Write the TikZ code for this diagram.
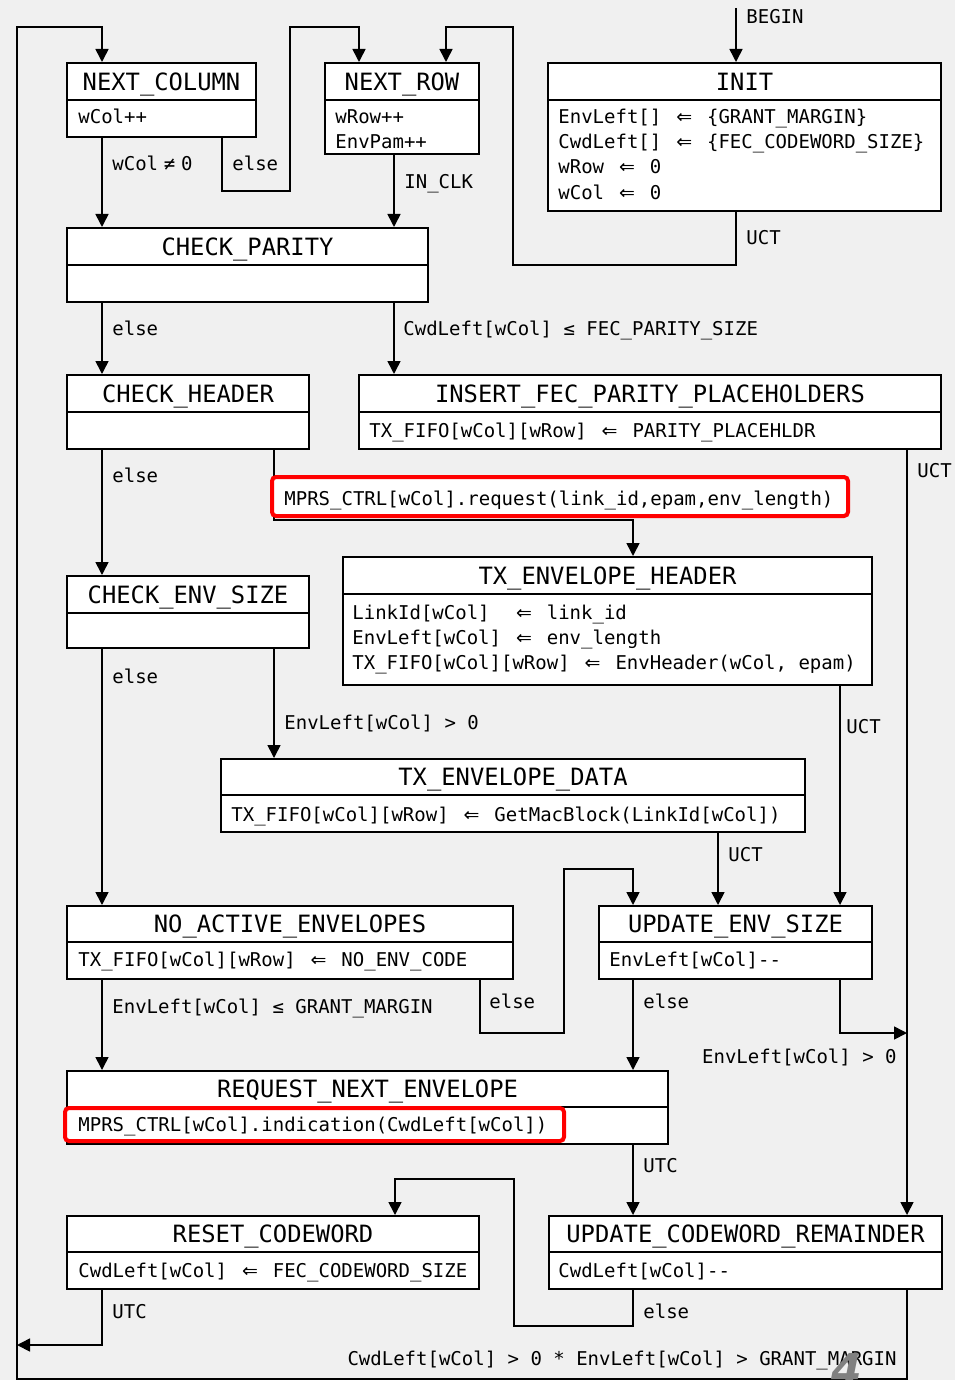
\documentclass[tikz,border=0pt]{standalone}
\usepackage{fontspec}
\setmonofont{DejaVu Sans Mono}
\newfontfamily\pagefont{DejaVu Sans}
\newfontfamily\arrowfont{DejaVu Sans}
\usetikzlibrary{arrows.meta,fit}
\definecolor{canvas}{HTML}{F0F0F0}
\definecolor{hilite}{HTML}{FF0000}
% assignment arrow and inequality sign, each two character cells wide
\newcommand\assignarrow{\makebox[1.204em]{\arrowfont ⇐}}
\newcommand\notequal{\makebox[1.204em]{≠}}
\tikzset{
  titlebox/.style={draw, line width=1pt, fill=white, inner sep=0pt},
  titletext/.style={anchor=base, inner sep=0pt, font=\ttfamily\fontsize{11.9}{14}\selectfont},
  bodybox/.style={draw, line width=1pt, fill=white, inner sep=0pt},
  bodyline/.style={anchor=base west, inner sep=0pt, font=\ttfamily\fontsize{9.5}{12}\selectfont},
  guard/.style={bodyline},
  flow/.style={line width=0.8pt, -{Triangle[length=6.5pt,width=6.5pt]}},
  wire/.style={line width=0.8pt},
  callout/.style={draw=hilite, line width=2pt, rounded corners=2pt, fill=white, inner sep=0pt},
}
% state: name, left, top, divider, right, bottom, title
\newcommand\fsmstate[7]{%
  \node[titlebox, fit={(#2,#3) (#5,#4)}] (#1) {};
  \node[bodybox, fit={(#2,#4) (#5,#6)}] (#1-b) {};
  \node[titletext] (#1-t) at ({(#2+#5)/2},{(#3+#4)/2+8.7}) {#7};
}
\begin{document}
\begin{tikzpicture}[x=0.5pt, y=-0.5pt]
\clip (0,0) rectangle (955,1380);
\fill[canvas] (0,0) rectangle (955,1380);

% ---------- states ----------
\fsmstate{nc}{67}{63}{100}{256}{137}{NEXT\_COLUMN}
\node[bodyline] (nc-1) at (78,124) {wCol++};

\fsmstate{nr}{325}{63}{100}{479}{154}{NEXT\_ROW}
\node[bodyline] (nr-1) at (335,124) {wRow++};
\node[bodyline] (nr-2) at (335,149) {EnvPam++};

\fsmstate{init}{548}{63}{100}{941}{211}{INIT}
\node[bodyline] (init-1) at (558,124) {EnvLeft[] \assignarrow{} \{GRANT\_MARGIN\}};
\node[bodyline] (init-2) at (558,149) {CwdLeft[] \assignarrow{} \{FEC\_CODEWORD\_SIZE\}};
\node[bodyline] (init-3) at (558,174) {wRow \assignarrow{} 0};
\node[bodyline] (init-4) at (558,199) {wCol \assignarrow{} 0};

\fsmstate{cp}{67}{228}{265}{428}{302}{CHECK\_PARITY}

\fsmstate{ch}{67}{375}{412}{309}{449}{CHECK\_HEADER}

\fsmstate{ins}{359}{375}{412}{941}{449}{INSERT\_FEC\_PARITY\_PLACEHOLDERS}
\node[bodyline] (ins-1) at (369,437) {TX\_FIFO[wCol][wRow] \assignarrow{} PARITY\_PLACEHLDR};

\fsmstate{txeh}{343}{557}{594}{872}{685}{TX\_ENVELOPE\_HEADER}
\node[bodyline] (txeh-1) at (352,619) {LinkId[wCol]\ \ \assignarrow{} link\_id};
\node[bodyline] (txeh-2) at (352,644) {EnvLeft[wCol] \assignarrow{} env\_length};
\node[bodyline] (txeh-3) at (352,669) {TX\_FIFO[wCol][wRow] \assignarrow{} EnvHeader(wCol, epam)};

\fsmstate{ces}{67}{576}{613}{309}{648}{CHECK\_ENV\_SIZE}

\fsmstate{txed}{221}{759}{795}{805}{832}{TX\_ENVELOPE\_DATA}
\node[bodyline] (txed-1) at (231,821) {TX\_FIFO[wCol][wRow] \assignarrow{} GetMacBlock(LinkId[wCol])};

\fsmstate{nae}{67}{906}{942}{513}{979}{NO\_ACTIVE\_ENVELOPES}
\node[bodyline] (nae-1) at (78,966) {TX\_FIFO[wCol][wRow] \assignarrow{} NO\_ENV\_CODE};

\fsmstate{ues}{599}{906}{942}{872}{979}{UPDATE\_ENV\_SIZE}
\node[bodyline] (ues-1) at (609,966) {EnvLeft[wCol]-{}-};

\fsmstate{rne}{67}{1071}{1107}{668}{1144}{REQUEST\_NEXT\_ENVELOPE}
\node[callout, fit={(65,1108) (564,1141)}] (ind) {};
\node[bodyline] (ind-t) at (78,1131) {MPRS\_CTRL[wCol].indication(CwdLeft[wCol])};

\fsmstate{rc}{67}{1216}{1252}{479}{1289}{RESET\_CODEWORD}
\node[bodyline] (rc-1) at (78,1277) {CwdLeft[wCol] \assignarrow{} FEC\_CODEWORD\_SIZE};

\fsmstate{ucr}{549}{1216}{1252}{942}{1289}{UPDATE\_CODEWORD\_REMAINDER}
\node[bodyline] (ucr-1) at (558,1277) {CwdLeft[wCol]-{}-};

% ---------- transitions ----------
\coordinate (begin) at (736,8);
\draw[flow] (begin) -- (init.north -| begin);
\node[guard] (g-begin) at (746,24) {BEGIN};

\draw[flow] (init-b.south -| 736,0) |- (513,265) |- (446,27) -- (nr.north -| 446,0);
\node[guard] (g-init) at (746,244) {UCT};

% outer loop back to NEXT_COLUMN, running along the bottom and left edges
\draw[flow] (ucr-b.south -| 907,0) |- (17,1379) |- (102,27) -- (nc.north -| 102,0);
\node[guard, anchor=base east] (g-ucr2) at (897,1365) {CwdLeft[wCol] > 0 * EnvLeft[wCol] > GRANT\_MARGIN};

\draw[flow] (nc-b.south -| 102,0) -- (cp.north -| 102,0);
\node[guard] (g-nc1) at (112,171) {wCol\notequal0};
\draw[flow] (nc-b.south -| 222,0) |- (290,191) |- (359,27) -- (nr.north -| 359,0);
\node[guard] (g-nc2) at (232,171) {else};

\draw[flow] (nr-b.south -| 394,0) -- (cp.north -| 394,0);
\node[guard] (g-nr) at (404,189) {IN\_CLK};

\draw[flow] (cp-b.south -| 102,0) -- (ch.north -| 102,0);
\node[guard] (g-cp1) at (112,335) {else};
\draw[flow] (cp-b.south -| 394,0) -- (ins.north -| 394,0);
\node[guard] (g-cp2) at (403,335) {CwdLeft[wCol] ≤ FEC\_PARITY\_SIZE};

\draw[flow] (ch-b.south -| 102,0) -- (ces.north -| 102,0);
\node[guard] (g-ch1) at (112,482) {else};
\draw[flow] (ch-b.south -| 274,0) |- (633,520) -- (txeh.north -| 633,0);
\node[callout, fit={(272,477) (848,516)}] (req) {};
\node[bodyline] (req-t) at (284,505) {MPRS\_CTRL[wCol].request(link\_id,epam,env\_length)};

\draw[flow] (ins-b.south -| 907,0) -- (ucr.north -| 907,0);
\node[guard] (g-ins) at (917,477) {UCT};

\draw[flow] (ces-b.south -| 102,0) -- (nae.north -| 102,0);
\node[guard] (g-ces1) at (112,683) {else};
\draw[flow] (ces-b.south -| 274,0) -- (txed.north -| 274,0);
\node[guard] (g-ces2) at (284,729) {EnvLeft[wCol] > 0};

\draw[flow] (txeh-b.south -| 840,0) -- (ues.north -| 840,0);
\node[guard] (g-txeh) at (846,733) {UCT};

\draw[flow] (txed-b.south -| 718,0) -- (ues.north -| 718,0);
\node[guard] (g-txed) at (728,861) {UCT};

\draw[flow] (nae-b.south -| 480,0) |- (564,1033) |- (633,869) -- (ues.north -| 633,0);
\node[guard] (g-nae1) at (489,1008) {else};
\draw[flow] (nae-b.south -| 102,0) -- (rne.north -| 102,0);
\node[guard] (g-nae2) at (112,1013) {EnvLeft[wCol] ≤ GRANT\_MARGIN};

\draw[flow] (ues-b.south -| 633,0) -- (rne.north -| 633,0);
\node[guard] (g-ues1) at (643,1008) {else};
\coordinate (merge) at (907,1033);
\draw[flow] (ues-b.south -| 840,0) |- (merge);
\node[guard, anchor=base east] (g-ues2) at (897,1063) {EnvLeft[wCol] > 0};

\draw[flow] (rne-b.south -| 633,0) -- (ucr.north -| 633,0);
\node[guard] (g-rne) at (643,1172) {UTC};

\draw[flow] (ucr-b.south -| 633,0) |- (514,1326) |- (395,1179) -- (rc.north -| 395,0);
\node[guard] (g-ucr1) at (643,1318) {else};

\coordinate (loopjoin) at (17,1345);
\draw[flow] (rc-b.south -| 102,0) |- (loopjoin);
\node[guard] (g-rc) at (112,1318) {UTC};

% page number
\node[anchor=base, inner sep=0pt, text=black!50,
  font=\pagefont\bfseries\itshape\fontsize{22}{22}\selectfont] (pageno) at (847,1385) {4};
\end{tikzpicture}
\end{document}
